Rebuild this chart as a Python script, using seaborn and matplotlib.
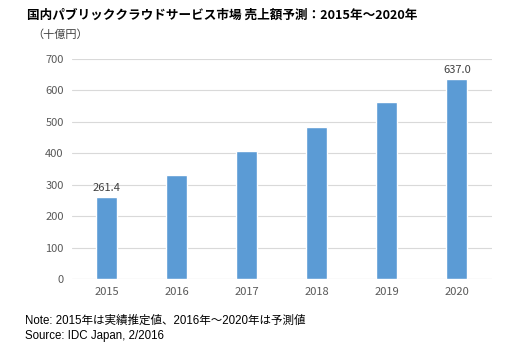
import matplotlib
matplotlib.use("Agg")
import matplotlib.pyplot as plt
import seaborn as sns
import pandas as pd

sns.set_theme(style="white")
plt.rcParams['font.family'] = ['Noto Sans CJK JP', 'DejaVu Sans']

years = ['2015', '2016', '2017', '2018', '2019', '2020']
sales = [261.4, 331, 407, 484, 562, 637.0]
labeled = {0: '261.4', 5: '637.0'}

df = pd.DataFrame({'year': years, 'sales': sales})

fig = plt.figure(figsize=(5.15, 3.51), dpi=100)
ax = fig.add_axes([0.1398, 0.2051, 0.8155, 0.6268])

sns.barplot(data=df, x='year', y='sales', color='#5B9BD5', width=0.3,
            saturation=1, ax=ax, zorder=3)

ax.set_ylim(0, 700)
ax.set_yticks(range(0, 701, 100))
ax.set_xlim(-0.5, 5.5)
ax.grid(axis='y', color='#D9D9D9', linewidth=0.8, zorder=0)
for s in ax.spines.values():
    s.set_visible(False)
ax.axhline(0, color='#D9D9D9', linewidth=0.8, zorder=1)
ax.tick_params(axis='both', length=0, labelsize=8, labelcolor='#595959', pad=6)
ax.set_xlabel('')
ax.set_ylabel('')

for i, txt in labeled.items():
    ax.text(i, sales[i] + 12, txt, ha='center', va='bottom', fontsize=8, color='#404040')

fig.text(0.052, 0.957, '国内パブリッククラウドサービス市場 売上額予測：2015年～2020年',
         fontsize=9.1, fontweight='bold', va='center', ha='left', color='#000000')
fig.text(0.062, 0.9, '（十億円）', fontsize=8, va='center', ha='left', color='#404040')
note_font = ['Liberation Sans', 'Noto Sans CJK JP']
fig.text(0.048, 0.085, 'Note: 2015年は実績推定値、2016年～2020年は予測値',
         fontsize=8.3, va='center', ha='left', color='#000000', family=note_font)
fig.text(0.048, 0.042, 'Source: IDC Japan, 2/2016',
         fontsize=8.3, va='center', ha='left', color='#000000', family=note_font)

fig.savefig('out.png', dpi=100)
